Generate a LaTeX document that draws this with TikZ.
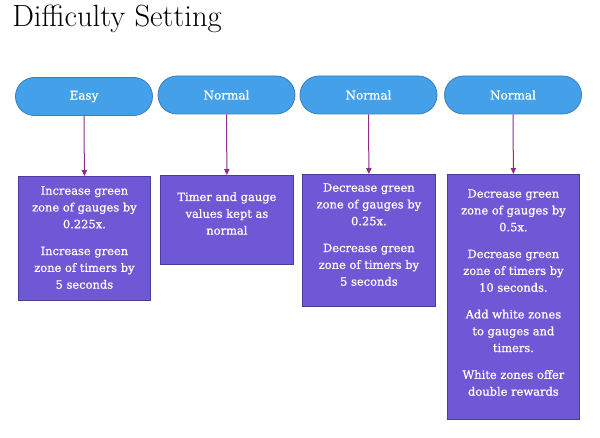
\documentclass[tikz,border=0pt]{standalone}
\usepackage{fontspec}
\newfontfamily\boxfont[FakeBold=0.8]{DejaVu Serif}
\usetikzlibrary{arrows.meta,shapes.misc}
\definecolor{pillfill}{HTML}{44A1E9}
\definecolor{pilledge}{HTML}{3A7CC0}
\definecolor{boxfill}{HTML}{6E58D6}
\definecolor{boxedge}{HTML}{4B3B9C}
\definecolor{arrowc}{HTML}{8E2C8E}
\tikzset{
  pill/.style={rounded rectangle, draw=pilledge, fill=pillfill, line width=0.6pt,
    minimum width=102.75pt, minimum height=28.5pt, inner sep=0pt,
    text=white, font=\boxfont\fontsize{9}{10}\selectfont},
  infobox/.style={rectangle, draw=boxedge, fill=boxfill, line width=0.6pt, inner sep=0pt},
  infotext/.style={anchor=north, inner sep=0pt, align=center, text=white,
    font=\boxfont\fontsize{8.6}{12.6}\selectfont},
  conn/.style={draw=arrowc, line width=0.75pt, -{Triangle[length=4.5pt,width=4pt]}}
}
\begin{document}
\begin{tikzpicture}[x=0.75pt,y=-0.75pt]
\useasboundingbox (0,0) rectangle (600,438);
\node[anchor=base west, inner sep=0pt, font=\fontsize{23}{27}\selectfont] (title) at (12,27) {Difficulty Setting};
% pills
\node[pill] (p1) at (84,96.5) {Easy};
\node[pill] (p2) at (226.5,95) {Normal};
\node[pill] (p3) at (368.5,95) {Normal};
\node[pill] (p4) at (513,95) {Normal};
% boxes
\node[infobox, minimum width=99pt, minimum height=93pt, anchor=north west] (b1) at (18,176) {};
\node[infobox, minimum width=99.75pt, minimum height=66.75pt, anchor=north west] (b2) at (160,175) {};
\node[infobox, minimum width=99.75pt, minimum height=99pt, anchor=north west] (b3) at (302,174) {};
\node[infobox, minimum width=99pt, minimum height=183.75pt, anchor=north west] (b4) at (447,174) {};
% texts
\node[infotext] (t1) at ([yshift=-7.5pt]b1.north) {Increase green\\zone of gauges by\\0.225x.\\[7.5pt]Increase green\\zone of timers by\\5 seconds};
\node[infotext] (t2) at ([yshift=-12.75pt]b2.north) {Timer and gauge\\values kept as\\normal};
\node[infotext] (t3) at ([yshift=-6.75pt]b3.north) {Decrease green\\zone of gauges by\\0.25x.\\[7.5pt]Decrease green\\zone of timers by\\5 seconds};
\node[infotext] (t4) at ([yshift=-11.25pt]b4.north) {Decrease green\\zone of gauges by\\0.5x.\\[7.5pt]Decrease green\\zone of timers by\\10 seconds.\\[7.5pt]Add white zones\\to gauges and\\timers.\\[7.5pt]White zones offer\\double rewards};
% connectors
\draw[conn] (p1.south) -- (b1.north);
\draw[conn] (p2.south) -- (b2.north);
\draw[conn] (p3.south) -- (b3.north);
\draw[conn] (p4.south) -- (b4.north);
\end{tikzpicture}
\end{document}
